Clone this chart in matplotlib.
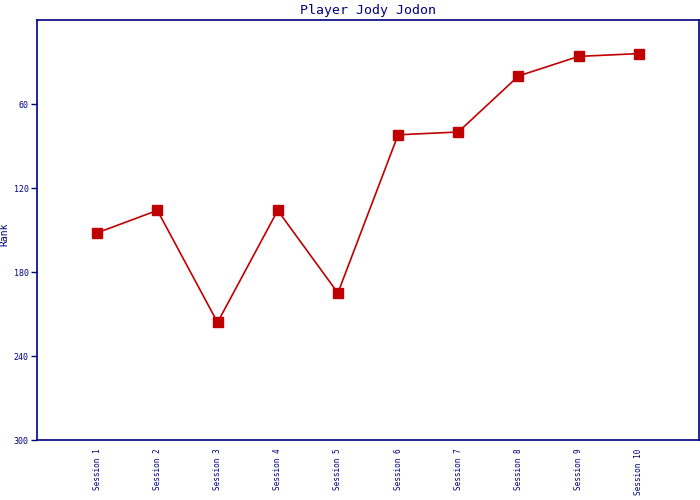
import matplotlib
matplotlib.use("Agg")
from matplotlib import pyplot

sessions = ["Session 1", "Session 2", "Session 3", "Session 4", "Session 5",
            "Session 6", "Session 7", "Session 8", "Session 9", "Session 10"]
ranks = [152, 136, 216, 136, 195, 82, 80, 40, 26, 24]
y_ticks = [60, 120, 180, 240, 300]

navy = "#000080"
red = "#c00000"

fig = pyplot.figure(figsize=(7, 5), dpi=100)
ax = fig.add_axes([37 / 700, 60 / 500, 662 / 700, 420 / 500])

x = list(range(1, len(sessions) + 1))
ax.plot(x, ranks, color=red, linewidth=1.2, marker="s", markersize=7,
        markerfacecolor=red, markeredgecolor=red)

ax.set_xlim(0, len(sessions) + 1)
ax.set_ylim(300, 0)
ax.set_yticks(y_ticks)
ax.set_yticklabels([str(v) for v in y_ticks], family="DejaVu Sans Mono",
                   fontsize=6, color=navy)
ax.set_xticks(x)
ax.set_xticklabels(sessions, rotation=90, family="DejaVu Sans Mono",
                   fontsize=5.6, color=navy)
ax.tick_params(axis="x", length=0, pad=6)
ax.tick_params(axis="y", length=4, color=navy, width=1, pad=2)

for spine in ax.spines.values():
    spine.set_color(navy)
    spine.set_linewidth(1.2)

ax.set_ylabel("Rank", family="DejaVu Sans Mono", fontsize=7, color=navy)
ax.yaxis.set_label_coords(-0.042, 0.49)
ax.set_title("Player Jody Jodon", family="DejaVu Sans Mono", fontsize=9.5,
             color=navy, pad=4)

pyplot.savefig("out.png")
